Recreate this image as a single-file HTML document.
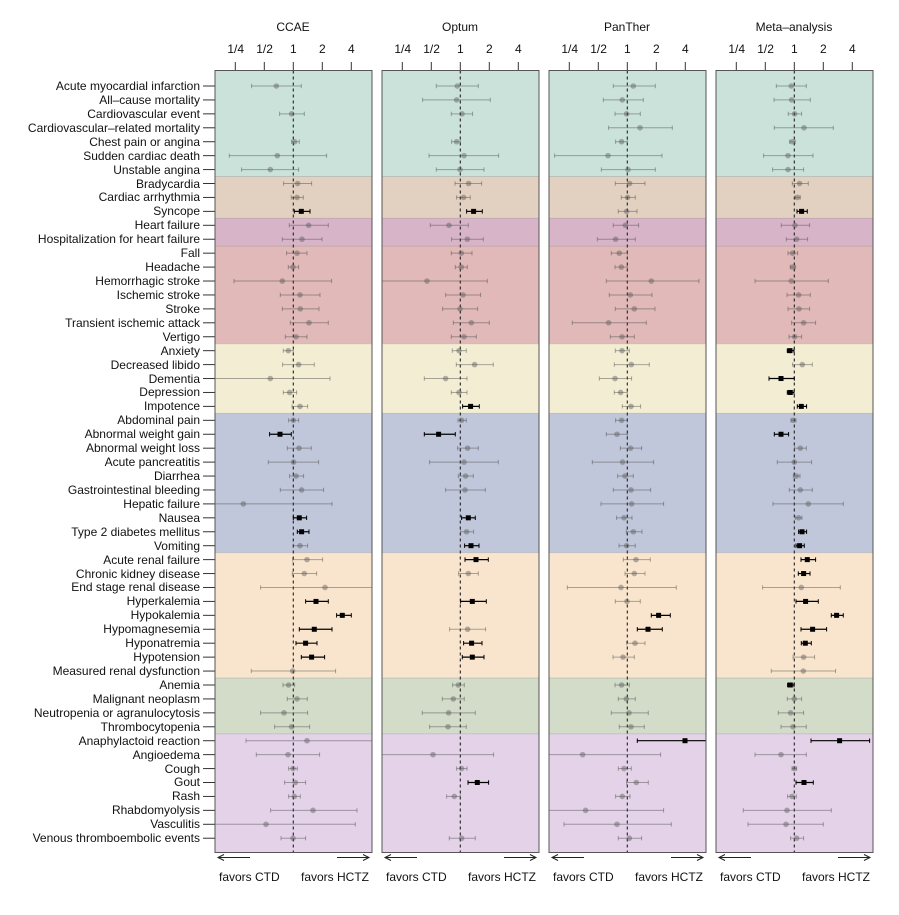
<!DOCTYPE html>
<html><head><meta charset="utf-8"><style>
html,body{margin:0;padding:0;background:#fff;}
svg text{font-family:"Liberation Sans",Arial,sans-serif;font-size:12px;fill:#111;}
</style></head><body>
<svg id="s" width="899" height="910" viewBox="0 0 899 910" xmlns="http://www.w3.org/2000/svg">
<g id="bg"></g>
<g text-anchor="end">
<text x="200" y="90">Acute myocardial infarction</text>
<text x="200" y="104">All–cause mortality</text>
<text x="200" y="118">Cardiovascular event</text>
<text x="200" y="132">Cardiovascular–related mortality</text>
<text x="200" y="146">Chest pain or angina</text>
<text x="200" y="160">Sudden cardiac death</text>
<text x="200" y="174">Unstable angina</text>
<text x="200" y="188">Bradycardia</text>
<text x="200" y="201">Cardiac arrhythmia</text>
<text x="200" y="215">Syncope</text>
<text x="200" y="229">Heart failure</text>
<text x="200" y="243">Hospitalization for heart failure</text>
<text x="200" y="257">Fall</text>
<text x="200" y="271">Headache</text>
<text x="200" y="285">Hemorrhagic stroke</text>
<text x="200" y="299">Ischemic stroke</text>
<text x="200" y="313">Stroke</text>
<text x="200" y="327">Transient ischemic attack</text>
<text x="200" y="341">Vertigo</text>
<text x="200" y="355">Anxiety</text>
<text x="200" y="369">Decreased libido</text>
<text x="200" y="383">Dementia</text>
<text x="200" y="396">Depression</text>
<text x="200" y="410">Impotence</text>
<text x="200" y="424">Abdominal pain</text>
<text x="200" y="438">Abnormal weight gain</text>
<text x="200" y="452">Abnormal weight loss</text>
<text x="200" y="466">Acute pancreatitis</text>
<text x="200" y="480">Diarrhea</text>
<text x="200" y="494">Gastrointestinal bleeding</text>
<text x="200" y="508">Hepatic failure</text>
<text x="200" y="522">Nausea</text>
<text x="200" y="536">Type 2 diabetes mellitus</text>
<text x="200" y="550">Vomiting</text>
<text x="200" y="564">Acute renal failure</text>
<text x="200" y="578">Chronic kidney disease</text>
<text x="200" y="591">End stage renal disease</text>
<text x="200" y="605">Hyperkalemia</text>
<text x="200" y="619">Hypokalemia</text>
<text x="200" y="633">Hypomagnesemia</text>
<text x="200" y="647">Hyponatremia</text>
<text x="200" y="661">Hypotension</text>
<text x="200" y="675">Measured renal dysfunction</text>
<text x="200" y="689">Anemia</text>
<text x="200" y="703">Malignant neoplasm</text>
<text x="200" y="717">Neutropenia or agranulocytosis</text>
<text x="200" y="731">Thrombocytopenia</text>
<text x="200" y="745">Anaphylactoid reaction</text>
<text x="200" y="759">Angioedema</text>
<text x="200" y="773">Cough</text>
<text x="200" y="786">Gout</text>
<text x="200" y="800">Rash</text>
<text x="200" y="814">Rhabdomyolysis</text>
<text x="200" y="828">Vasculitis</text>
<text x="200" y="842">Venous thromboembolic events</text>
</g>
<g text-anchor="middle">
<text x="293" y="31">CCAE</text><text x="460" y="31">Optum</text><text x="627" y="31">PanTher</text><text x="794" y="31">Meta–analysis</text>
<text x="235.7" y="53">1/4</text><text x="264.6" y="53">1/2</text><text x="293.3" y="53">1</text><text x="322.3" y="53">2</text><text x="351.3" y="53">4</text>
<text x="402.7" y="53">1/4</text><text x="431.6" y="53">1/2</text><text x="460.3" y="53">1</text><text x="489.3" y="53">2</text><text x="518.3" y="53">4</text>
<text x="569.7" y="53">1/4</text><text x="598.6" y="53">1/2</text><text x="627.3" y="53">1</text><text x="656.3" y="53">2</text><text x="685.3" y="53">4</text>
<text x="736.7" y="53">1/4</text><text x="765.6" y="53">1/2</text><text x="794.3" y="53">1</text><text x="823.3" y="53">2</text><text x="852.3" y="53">4</text>
</g>
<g>
<text x="219" y="881">favors CTD</text><text x="369" y="881" text-anchor="end">favors HCTZ</text>
<text x="386" y="881">favors CTD</text><text x="536" y="881" text-anchor="end">favors HCTZ</text>
<text x="553" y="881">favors CTD</text><text x="703" y="881" text-anchor="end">favors HCTZ</text>
<text x="720" y="881">favors CTD</text><text x="870" y="881" text-anchor="end">favors HCTZ</text>
</g>
<g id="fg"></g>
</svg>
<script>
var N=null;
var D=[
[[-17,-41.7,8],N,[-1.7,-13.7,11],N,[1.3,-1.7,6],[-16,-64,33.3],[-23,-51.7,5.3],[4.3,-9.7,18.3],[3.7,-2,10],[8,1,16.7,1],[15.3,-4,35],[8.7,-11,28.7],[3.7,-6.7,13.7],[-0.3,-5,5.3],[-11,-59.3,38.3],[6.7,-13,26.7],[7,-11,25.7],[15.7,-3,35],[2.7,-8,13.7],[-5,-10,0],[5.3,-10.7,21],[-23,-99,36.7],[-3.7,-10,3.3],[6.7,-1.3,14.3],[0,-4.7,5.3],[-13.3,-23.7,-2,1],[5.7,-6,18],[0.3,-25,25.3],[2.7,-3.7,10.3],[8.3,-13,30.3],[-50,-99,38.7],[6,0,13.3,1],[8.3,4,15.7,1],[6.7,0,14.3],[13.7,-0.7,29.3],[11,-1,23.3],[31.7,-32.7,99],[22.7,12.3,35,1],[49,43.3,58,1],[21,6,38.7,1],[12.3,2.7,23.7,1],[18.3,8,31.3,1],[-0.7,-42,42.3],[-4.7,-10.3,1.3],[3.7,-6,14],[-9.3,-32.7,14.3],[-1.7,-18.7,16.3],[13.7,-47.3,99],[-5.3,-37,26.3],[-0.3,-4.7,4],[2,-8.7,12.3],[1,-4.7,7],[19.7,-22.7,63.7],[-27.3,-99,62],[-0.3,-12.3,12.3]],
[[-3,-24,18],[-3.7,-37.7,30],[1.7,-9,12.3],N,[-3.7,-8.7,0],[3.7,-31.3,38.3],[-0.3,-24,23.7],[8.3,-5.3,21.3],[3.3,-3.7,10],[13.3,6.3,22,1],[-11.3,-30,8],[7,-8.7,23],[1,-9,11.7],[1,-5,7],[-33.3,-99,27],[2.7,-14.7,20.3],[-0.3,-17.7,17.3],[11,-7,29],[3.7,-9,16],[-1.3,-8,6],[14.3,-4,33],[-14.7,-36,6.7],[-1.3,-9,6.7],[10.3,2.3,19,1],[1.3,-2.3,6],[-21.7,-36,-5,1],[7.3,-2.7,18],[3.7,-30.7,38],[5.3,-2,13],[4.7,-14.7,25],N,[8,1.3,15,1],[6.3,0.3,13.3],[10.7,4.3,18.7,1],[15.7,4.7,28,1],[8,-1.7,18],N,[12,0.3,26,1],N,[7.3,-10.7,25.3],[11.3,3.3,21.7,1],[12,2,23.7,1],N,[-2,-7.7,4],[-7,-18,4],[-11.7,-38,15],[-12.3,-30.7,6],N,[-27.3,-99,33.3],[1.3,-3.7,6.7],[17,7.7,28.3,1],[-6,-13.7,0],N,N,[1.3,-11,15]],
[[6,-14,28],[-5,-24,16],[-0.7,-12.3,13],[12.7,-18.7,45],[-5.7,-11.7,0],[-19.3,-72.7,34.7],[0.7,-26,28],[2.3,-12,17.7],[0.3,-6,8],[-0.7,-9,9.7],[-2,-14,11.3],[-11.7,-30,8],[-8,-16,0],[-6,-12.3,0],[24,-21,71.7],[3,-18,24.7],[7,-12,27.7],[-18.7,-55,19],[-5.3,-17,7],[-5.3,-12,2],[4,-13,22],[-12.3,-28,4.3],[-6.7,-13,0],[3.7,-5,13.3],[-5.7,-11.7,0],[-10.3,-21,0],[3.3,-7,14.3],[-4.7,-35,26.3],[-2.3,-9.7,6],[3.7,-14,23.3],[4.3,-26.3,36.3],[-3.3,-10.7,4.7],[6,-1,14.7],[-0.7,-8.3,8],[8.7,-4,23],[7,-2.3,17.7],[-6.3,-60,49],[-0.3,-12,13],[31.3,24,43,1],[20.7,10,35,1],[7.7,-0.7,17.7],[-4.3,-14.3,7],N,[-5.7,-12.3,2],[-1,-9,8],[1.7,-16,21],[3.7,-8,17],[57.7,10,99,1],[-44.7,-99,33.3],[-3.3,-9,4],[9,-0.7,21],[-5,-11.7,2.7],[-41.7,-99,36.3],[-10.3,-63.3,44],[2,-9,14.3]],
[[-3,-18,12],[-2.7,-20.3,16],[0.3,-6,7.3],[9.7,-20,39],[-2,-4.7,1],[-6.3,-30.7,18.7],[-6.3,-21.7,9.3],[5.3,-2,14],[3.3,1,6],[7.3,2.7,13,1],[0.7,-13,15.3],[2.3,-8,13.3],[-1.7,-6.3,3.3],[-1.7,-4,1.3],[-3,-39.3,34],[4.3,-7.3,16],[4.7,-6.3,15.3],[9.3,-2.7,21.3],[0.3,-5.3,7.3],[-4.3,-7,-0.3,1],[8,-1.7,18],[-13.3,-25.3,0,1],[-4,-7,-0.3,1],[7,3,12.3,1],[-1,-3.3,1.7],[-13.3,-20,-5.7,1],[6,0.3,12],[0,-17,17.3],[2,-1,5.7],[6,-5,18],[14,-21.3,49],[4.3,1,7.7],[7.7,4.3,12.3,1],[5.3,1.7,10,1],[13,6.7,21.3,1],[9.3,4,15.7,1],[7,-31.7,46],[11.3,1.7,24,1],[42.3,37,49,1],[18.3,6.7,32.3,1],[11,7,17,1],[9.3,-1.3,20.3],[9,-23,41.3],[-4,-6.7,-0.3,1],[0,-7,7.3],[-3.7,-16,9.3],[-1.3,-13.3,12],[45.3,16.7,75.3,1],[-13.3,-39.3,12],[0,-2.3,2.3],[9.7,1.7,19,1],[-2.3,-6.7,2],[-7.3,-51,37],[-8.3,-46.3,29],[2.3,-3.7,9.3]]
];
var NS="http://www.w3.org/2000/svg";
function el(p,t,a){var e=document.createElementNS(NS,t);for(var k in a)e.setAttribute(k,a[k]);p.appendChild(e);return e;}
var bg=document.getElementById('bg'),fg=document.getElementById('fg');
var groups=[[7,'#cbe2db'],[3,'#e2d0c0'],[2,'#d8b4c8'],[7,'#e0b9b8'],[5,'#f3edd3'],[10,'#c0c7da'],[9,'#f9e5cd'],[4,'#d2dcc8'],[8,'#e3d2e8']];
var T=70.5,B=852.5,W=157,lefts=[215,382,549,716];
function ry(r){return 86+13.93*r;}
// row ticks
for(var r=0;r<55;r++)el(fg,'line',{x1:203,x2:215,y1:ry(r),y2:ry(r),stroke:'#333','stroke-width':1});
lefts.forEach(function(L,pi){
  var cx=L+78.3, R=L+W;
  var start=0,y0=T;
  groups.forEach(function(g,gi){
    var end=start+g[0];
    var y1=(gi==groups.length-1)?B:ry(end-0.5);
    el(bg,'rect',{x:L,y:y0,width:W,height:y1-y0,fill:g[1]});
    if(gi>0)el(bg,'line',{x1:L,x2:R,y1:y0,y2:y0,stroke:'rgba(0,0,0,0.12)','stroke-width':1});
    y0=y1;start=end;
  });
  for(var k=-2;k<=2;k++){var x=cx+k*29;el(fg,'line',{x1:x,x2:x,y1:62,y2:T,stroke:'#333'});}
  el(fg,'line',{x1:cx,x2:cx,y1:T,y2:B,stroke:'#222','stroke-width':1.1,'stroke-dasharray':'3,3'});
  D[pi].forEach(function(d,r){
    if(!d)return;var y=ry(r);
    var lo=Math.max(L,cx+d[1]),hi=Math.min(R,cx+d[2]),p=cx+d[0];
    var blk=d[3];var c=blk?'#000':'rgba(70,70,70,0.45)';
    el(fg,'line',{x1:lo,x2:hi,y1:y,y2:y,stroke:c,'stroke-width':blk?1.2:1});
    if(cx+d[1]>=L)el(fg,'line',{x1:lo,x2:lo,y1:y-2.2,y2:y+2.2,stroke:c,'stroke-width':1});
    if(cx+d[2]<=R)el(fg,'line',{x1:hi,x2:hi,y1:y-2.2,y2:y+2.2,stroke:c,'stroke-width':1});
    if(blk)el(fg,'rect',{x:p-2.5,y:y-2.5,width:5,height:5,fill:'#000'});
    else el(fg,'circle',{cx:p,cy:y,r:2.8,fill:'rgba(90,90,90,0.45)'});
  });
  el(fg,'rect',{x:L,y:T,width:W,height:B-T,fill:'none',stroke:'#555','stroke-width':1});
  // arrows
  var ay=857.5;
  el(fg,'line',{x1:L+3,x2:L+35,y1:ay,y2:ay,stroke:'#222'});
  el(fg,'path',{d:'M'+(L+9)+' '+(ay-3)+' L'+(L+3)+' '+ay+' L'+(L+9)+' '+(ay+3),fill:'none',stroke:'#222'});
  el(fg,'line',{x1:R-35,x2:R-3,y1:ay,y2:ay,stroke:'#222'});
  el(fg,'path',{d:'M'+(R-9)+' '+(ay-3)+' L'+(R-3)+' '+ay+' L'+(R-9)+' '+(ay+3),fill:'none',stroke:'#222'});
});
</script>
</body></html>
